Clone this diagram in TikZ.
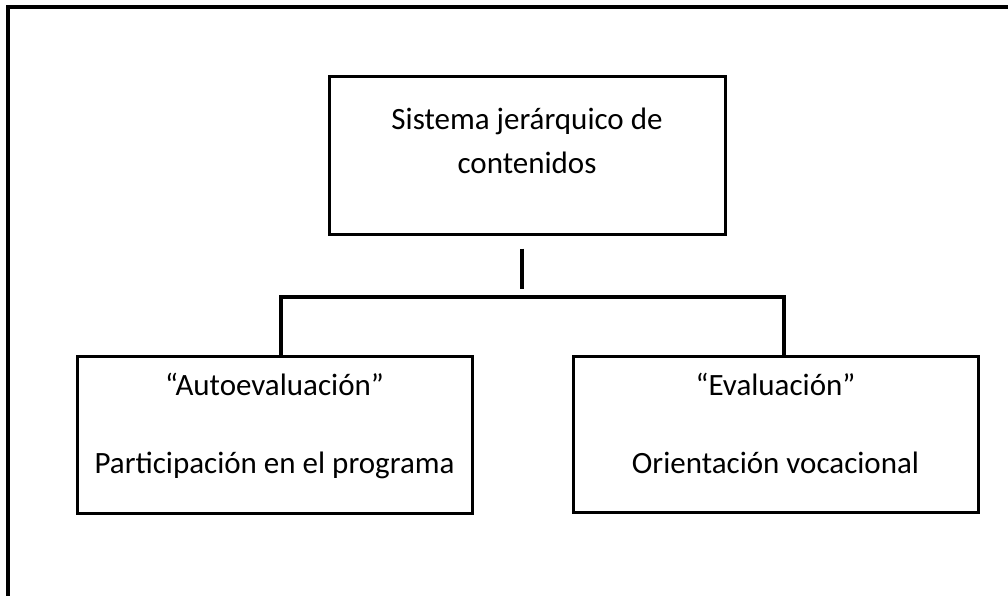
\documentclass[tikz,border=0pt]{standalone}
\usepackage{fontspec}
\setmainfont{Carlito}
\usetikzlibrary{calc}

\tikzset{
  box/.style={draw=black,line width=3pt,inner sep=0pt,align=center,
    font=\fontsize{31}{44}\selectfont},
  link/.style={draw=black,line width=3.5pt}
}

\begin{document}
\begin{tikzpicture}[x=1pt,y=-1pt]
\useasboundingbox (0,0) rectangle (1008,595);
% outer frame
\draw[line width=4pt] (8,620) -- (8,7) -- (1030,7);
% boxes
\node[box,minimum width=396pt,text height=97pt,text depth=61pt] (top) at (527,155)
  {Sistema jerárquico de\\contenidos};
\node[box,minimum width=395pt,text height=117pt,text depth=40pt] (auto) at (274.5,434.5)
  {“Autoevaluación”\\[34pt]Participación en el programa};
\node[box,minimum width=405pt,text height=117pt,text depth=39pt] (eval) at (775.5,434)
  {“Evaluación”\\[34pt]Orientación vocacional};
% connectors
\coordinate (barL) at (281,297);
\coordinate (barR) at (784,297);
\draw[link] ($(top.south)+(-5,13)$) -- ++(0,40);
\draw[link] (barL |- auto.north) -- (barL) -- (barR) -- (barR |- eval.north);
\end{tikzpicture}
\end{document}
